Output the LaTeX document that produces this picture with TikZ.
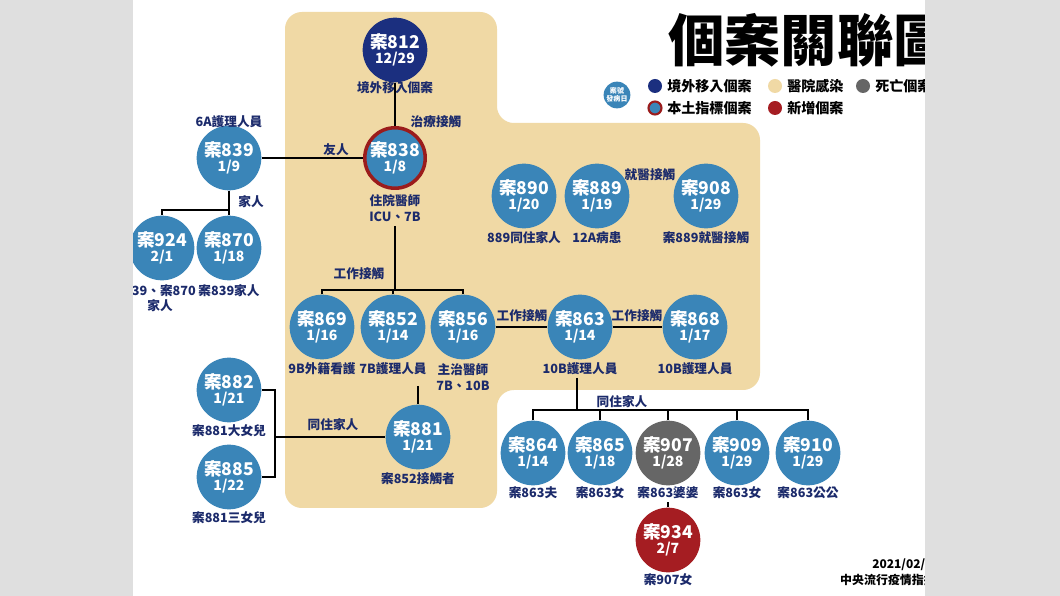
\documentclass[tikz,border=0pt]{standalone}
\usepackage{fontspec}
\setmainfont{Noto Sans CJK TC}
\usetikzlibrary{positioning}
\definecolor{navy}{HTML}{1B2F7F}
\definecolor{caseblue}{HTML}{3A85B8}
\definecolor{ringred}{HTML}{9B1C1C}
\definecolor{newred}{HTML}{A51D22}
\definecolor{deadgray}{HTML}{666666}
\definecolor{hosp}{HTML}{F0D9A5}
\definecolor{labnavy}{HTML}{1B2A6B}
\newcommand{\cs}[2]{{\fontsize{12.5}{13}\selectfont\bfseries 案#1}\\[-1pt]{\fontsize{10}{11}\selectfont\bfseries #2}}
\tikzset{
  case/.style={circle,fill=caseblue,text=white,minimum size=46pt,inner sep=0pt,align=center},
  abroad/.style={case,fill=navy},
  index/.style={case,draw=ringred,line width=2.5pt,minimum size=43pt},
  dead/.style={case,fill=deadgray},
  new/.style={case,fill=newred},
  lab/.style={text=labnavy,font=\fontsize{9}{11}\selectfont\bfseries,align=center,inner sep=0pt},
  link/.style={line width=2pt,black}
}
\begin{document}
\begin{tikzpicture}[x=0.025cm,y=-0.025cm]
\useasboundingbox (0,0) rectangle (1060,596);
\fill[white] (0,0) rectangle (1060,596);
% hospital area
\fill[hosp,rounded corners=12pt] (285,12) -- (497,12) -- (497,123) -- (760,123) -- (760,390)
  -- (497,390) -- (497,508) -- (285,508) -- cycle;

% cases
\node[abroad] (c812) at (395,50) {\cs{812}{12/29}};
\node[index] (c838) at (395,158) {\cs{838}{1/8}};
\node[case] (c839) at (229,158) {\cs{839}{1/9}};
\node[case] (c924) at (162,248) {\cs{924}{2/1}};
\node[case] (c870) at (229,248) {\cs{870}{1/18}};
\node[case] (c890) at (524,196) {\cs{890}{1/20}};
\node[case] (c889) at (597,196) {\cs{889}{1/19}};
\node[case] (c908) at (706,196) {\cs{908}{1/29}};
\node[case] (c869) at (322,327) {\cs{869}{1/16}};
\node[case] (c852) at (393,327) {\cs{852}{1/14}};
\node[case] (c856) at (463,327) {\cs{856}{1/16}};
\node[case] (c863) at (580,327) {\cs{863}{1/14}};
\node[case] (c868) at (695,327) {\cs{868}{1/17}};
\node[case] (c882) at (229,390) {\cs{882}{1/21}};
\node[case] (c885) at (229,477) {\cs{885}{1/22}};
\node[case] (c881) at (418,437) {\cs{881}{1/21}};
\node[case] (c864) at (533,453) {\cs{864}{1/14}};
\node[case] (c865) at (600,453) {\cs{865}{1/18}};
\node[dead] (c907) at (668,453) {\cs{907}{1/28}};
\node[case] (c909) at (737,453) {\cs{909}{1/29}};
\node[case] (c910) at (808,453) {\cs{910}{1/29}};
\node[new] (c934) at (668,540) {\cs{934}{2/7}};

% labels
\node[lab] at (395,88) {境外移入個案};
\node[lab] at (395,208) {住院醫師\\ICU、7B};
\node[lab] at (229,122) {6A護理人員};
\node[lab] at (160,298) {839、案870\\家人};
\node[lab] at (229,291) {案839家人};
\node[lab] at (524,238) {889同住家人};
\node[lab] at (597,238) {12A病患};
\node[lab] at (706,238) {案889就醫接觸};
\node[lab] at (322,369) {9B外籍看護};
\node[lab] at (393,369) {7B護理人員};
\node[lab] at (463,377) {主治醫師\\7B、10B};
\node[lab] at (580,369) {10B護理人員};
\node[lab] at (695,369) {10B護理人員};
\node[lab] at (229,431) {案881大女兒};
\node[lab] at (229,518) {案881三女兒};
\node[lab] at (418,479) {案852接觸者};
\node[lab] at (533,493) {案863夫};
\node[lab] at (600,493) {案863女};
\node[lab] (l907) at (668,493) {案863婆婆};
\node[lab] at (737,493) {案863女};
\node[lab] at (808,493) {案863公公};
\node[lab] at (668,580) {案907女};
\node[lab] at (436,122) {治療接觸};
\node[lab] at (336,150) {友人};
\node[lab] at (251,202) {家人};
\node[lab] at (650,175) {就醫接觸};
\node[lab] at (359,274) {工作接觸};
\node[lab] at (522,316) {工作接觸};
\node[lab] at (637,316) {工作接觸};
\node[lab] at (333,425) {同住家人};
\node[lab] at (622,402) {同住家人};

% links
\draw[link] (c812) -- (c838);
\draw[link] (c839) -- (c838);
\draw[link] (c839) -- (229,210) -| (c924);
\draw[link] (229,210) -- (c870);
\draw[link] (395,226) -- (395,290);
\draw[link] (c869) -- (322,290) -| (c856);
\draw[link] (c852) -- (393,290);
\draw[link] (c856) -- (c863);
\draw[link] (c863) -- (c868);
\draw[link] (418,386) -- (c881);
\draw[link] (c882) -- (275,390) |- (c885);
\draw[link] (275,437) -- (c881);
\draw[link] (577,378) -- (577,410);
\draw[link] (c864) -- (533,410) -| (c910);
\draw[link] (c865) -- (600,410);
\draw[link] (c907) -- (668,410);
\draw[link] (c909) -- (737,410);
\draw[link] ([yshift=-2pt]l907.south) -- (c934);

% title and legend
\node[anchor=west,font=\fontsize{40}{44}\selectfont\bfseries,inner sep=0pt] at (668,40) {個案關聯圖};
\node[circle,fill=caseblue,text=white,minimum size=19pt,inner sep=0pt,align=center,
  font=\fontsize{5}{6}\selectfont\bfseries] (key) at (617,95) {案號\\發病日};
\fill[navy] (655,86) circle (7);
\node[anchor=west,font=\fontsize{10}{12}\selectfont\bfseries,inner sep=0pt] at (667,86) {境外移入個案};
\draw[fill=caseblue,draw=ringred,line width=1.5pt] (655,108) circle (6.5);
\node[anchor=west,font=\fontsize{10}{12}\selectfont\bfseries,inner sep=0pt] at (667,108) {本土指標個案};
\fill[hosp] (775,86) circle (7);
\node[anchor=west,font=\fontsize{10}{12}\selectfont\bfseries,inner sep=0pt] at (787,86) {醫院感染};
\fill[newred] (775,108) circle (7);
\node[anchor=west,font=\fontsize{10}{12}\selectfont\bfseries,inner sep=0pt] at (787,108) {新增個案};
\fill[deadgray] (863,86) circle (7);
\node[anchor=west,font=\fontsize{10}{12}\selectfont\bfseries,inner sep=0pt] at (875,86) {死亡個案};
\node[anchor=east,font=\fontsize{8.5}{10}\selectfont\bfseries,inner sep=0pt] at (940,565) {2021/02/08};
\node[anchor=east,font=\fontsize{8.5}{10}\selectfont\bfseries,inner sep=0pt] at (960,580) {中央流行疫情指揮中心};

% cropped edges
\fill[gray!25] (0,0) rectangle (133,596);
\fill[gray!25] (925,0) rectangle (1060,596);
\end{tikzpicture}
\end{document}
